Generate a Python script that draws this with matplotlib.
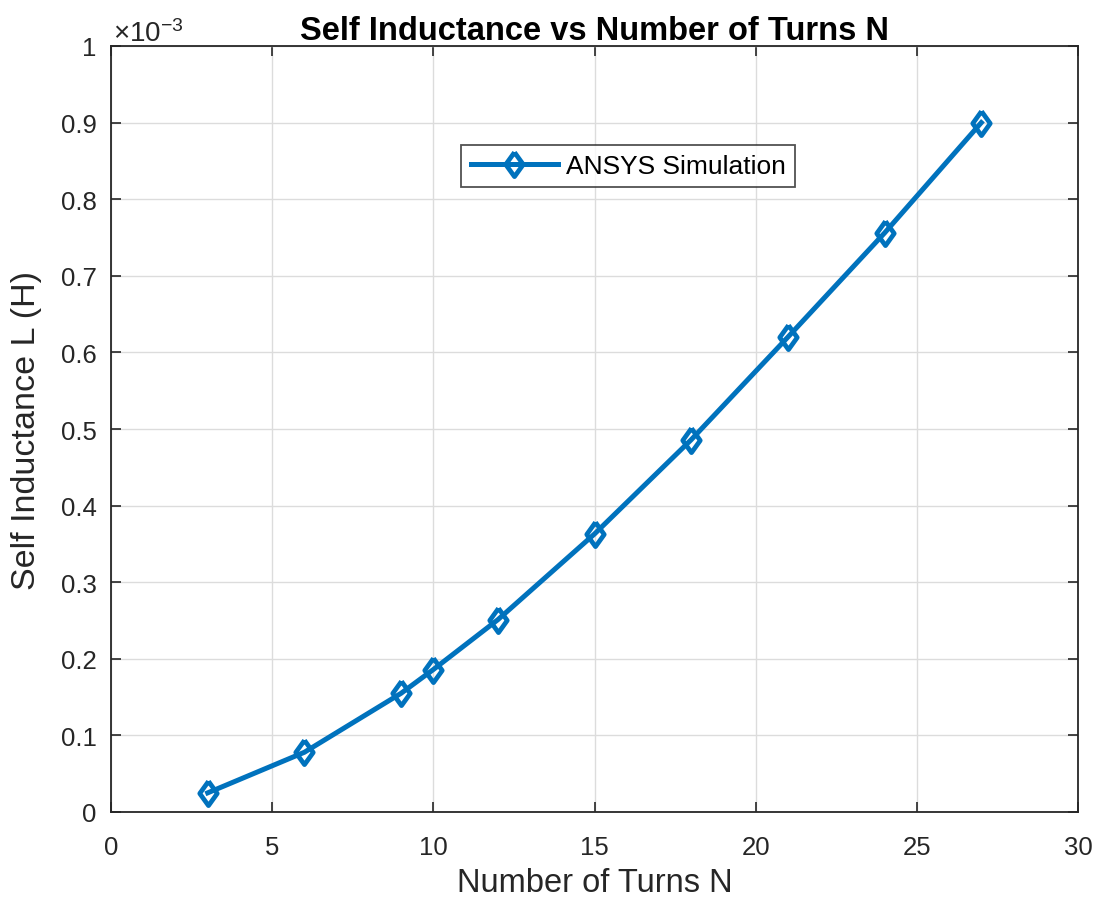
import matplotlib
matplotlib.use("Agg")
import matplotlib.pyplot as plt
from matplotlib.ticker import FuncFormatter

plt.rcParams['font.family'] = ['Liberation Sans', 'DejaVu Sans']
plt.rcParams['mathtext.fontset'] = 'custom'
plt.rcParams['mathtext.rm'] = 'Liberation Sans'
plt.rcParams['mathtext.it'] = 'Liberation Sans:italic'
plt.rcParams['mathtext.bf'] = 'Liberation Sans:bold'

turns = [3, 6, 9, 10, 12, 15, 18, 21, 24, 27]
inductance_mH = [0.025, 0.078, 0.155, 0.186, 0.251, 0.363, 0.486, 0.620, 0.756, 0.900]
inductance_H = [v * 1e-3 for v in inductance_mH]
x_ticks = [0, 5, 10, 15, 20, 25, 30]
y_ticks = [0, 0.1e-3, 0.2e-3, 0.3e-3, 0.4e-3, 0.5e-3, 0.6e-3, 0.7e-3, 0.8e-3, 0.9e-3, 1.0e-3]

dark = '#262626'
blue = '#0072BD'
diamond = [(0, 1), (0.72, 0), (0, -1), (-0.72, 0), (0, 1)]

fig = plt.figure(figsize=(11.01, 9.03), dpi=100)
ax = fig.add_axes([111/1101, 1 - 813/903, (1078-111)/1101, (813-47)/903])

ax.plot(turns, inductance_H, color=blue, linewidth=3.6, marker=diamond, markersize=17.5,
        markerfacecolor='none', markeredgecolor=blue, markeredgewidth=3.4,
        label='ANSYS Simulation')

ax.set_xlim(0, 30)
ax.set_ylim(0, 1e-3)
ax.set_xticks(x_ticks)
ax.set_yticks(y_ticks)
ax.yaxis.set_major_formatter(FuncFormatter(lambda v, p: f"{v*1e3:g}"))
ax.grid(True, color='#dcdcdc', linewidth=1)
ax.set_axisbelow(True)
ax.tick_params(direction='in', length=7, width=1.2, colors=dark, labelsize=18.5,
               top=True, right=True)
ax.tick_params(axis='y', pad=10.5)
ax.tick_params(axis='x', pad=16.5)
for s in ax.spines.values():
    s.set_color(dark)
    s.set_linewidth(1.3)

ax.set_title('Self Inductance vs Number of Turns N', fontsize=23.5, fontweight='bold',
             color='black', pad=5)
ax.set_xlabel('Number of Turns N', fontsize=23.5, color=dark, labelpad=6)
ax.set_ylabel('Self Inductance L (H)', fontsize=24.5, color=dark, labelpad=13)

ax.text(0.002, 0.0065 + 1.0, r'$\times10^{-3}$', transform=ax.transAxes, fontsize=20,
        color=dark, ha='left', va='baseline')

leg = ax.legend(loc='center', bbox_to_anchor=((628 - 111) / 967, (813 - 167) / 766),
                fontsize=19, frameon=True, fancybox=False, edgecolor=dark,
                handlelength=3.3, borderpad=0.35, handletextpad=0.3, borderaxespad=0)
leg.get_frame().set_linewidth(1.3)

fig.savefig('out.png', dpi=100, facecolor='white')
